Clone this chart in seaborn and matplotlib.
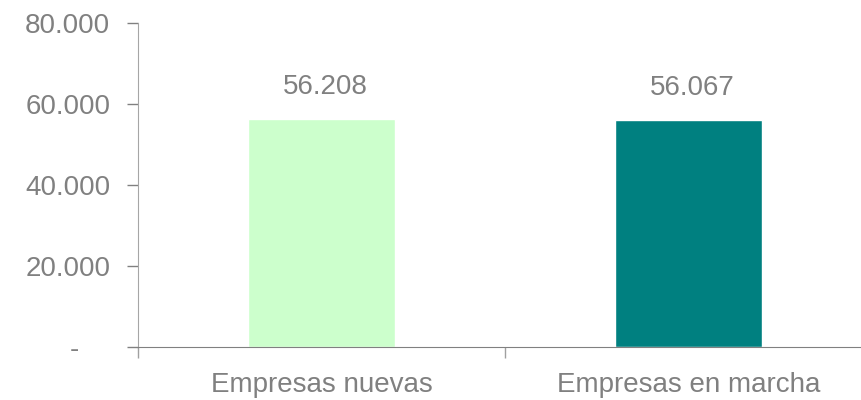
import pandas as pd
import seaborn as sns
import matplotlib.pyplot as plt
from matplotlib.ticker import FuncFormatter, FixedLocator

# datos
categorias = ['Empresas nuevas', 'Empresas en marcha']
valores = [56208, 56067]
colores = ['#CCFFCC', '#008080']

df = pd.DataFrame({'categoria': categorias, 'valor': valores})

sns.set_style('white')
plt.rcParams['font.family'] = ['Liberation Sans', 'DejaVu Sans']

gris = '#808080'
fig = plt.figure(figsize=(8.62, 4.0), dpi=100)
ax = fig.add_axes([138 / 862, 53 / 400, 1 - 138 / 862, 324 / 400])

sns.barplot(data=df, x='categoria', y='valor', hue='categoria', palette=colores,
            width=0.4, legend=False, ax=ax, saturation=1)

def fmt_miles(v, pos):
    if v == 0:
        return '-    '
    return f'{int(v):,}'.replace(',', '.')

ax.set_ylim(0, 80000)
ax.set_xlim(-0.5, 0.5 + 357 / 367)
ax.set_yticks([0, 20000, 40000, 60000, 80000])
ax.yaxis.set_major_formatter(FuncFormatter(fmt_miles))

# etiquetas de barras
for i, v in enumerate(valores):
    ax.text(i + 0.01, v + 4700, fmt_miles(v, None), ha='center', va='bottom',
            fontsize=20, color=gris)

ax.set_xlabel('')
ax.set_ylabel('')
ax.tick_params(axis='y', labelsize=20, colors=gris, length=8, width=1, direction='out', left=True, pad=12)
ax.tick_params(axis='x', which='major', labelsize=20, colors=gris, length=0, pad=18)
ax.xaxis.set_minor_locator(FixedLocator([-0.5, 0.5, 1.5]))
ax.tick_params(axis='x', which='minor', length=8, width=1, color='#a0a0a0', direction='out', bottom=True)

for s in ['top', 'right']:
    ax.spines[s].set_visible(False)
ax.spines['left'].set_color('#a6a6a6')
ax.spines['bottom'].set_color(gris)

fig.savefig('out.png', dpi=100)
